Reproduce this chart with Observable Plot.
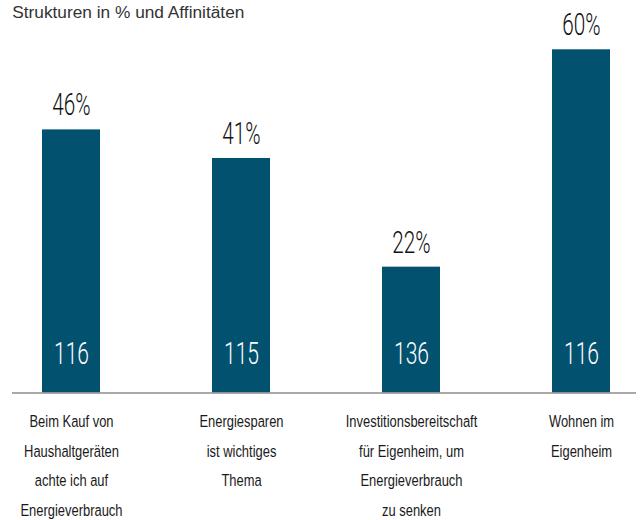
<!DOCTYPE html>
<html>
<head>
<meta charset="utf-8">
<script src="https://cdn.jsdelivr.net/npm/d3@7"></script>
<script src="https://cdn.jsdelivr.net/npm/@observablehq/plot@0.6"></script>
<style>
  html, body { margin: 0; padding: 0; background: #fff; }
  #chart svg { display: block; overflow: visible; }
</style>
</head>
<body>
<div id="chart"></div>
<script>
const title = "Strukturen in % und Affinitäten";
const categories = [
  "Beim Kauf von\nHaushaltgeräten\nachte ich auf\nEnergieverbrauch",
  "Energiesparen\nist wichtiges\nThema",
  "Investitionsbereitschaft\nfür Eigenheim, um\nEnergieverbrauch\nzu senken",
  "Wohnen im\nEigenheim"
];
const shares = [46, 41, 22, 60];
const indexValues = [116, 115, 136, 116];

const data = categories.map((c, i) => ({cat: c, share: shares[i], idx: indexValues[i]}));
const numFont = "Roboto, 'Liberation Sans', sans-serif";
const labFont = "'Liberation Sans', Arial, sans-serif";
const barColor = "#02516f";

const chart = Plot.plot({
  width: 641,
  height: 520,
  marginLeft: 42,
  marginRight: 30.5,
  marginTop: 49.3,
  marginBottom: 127.5,
  style: {background: "#fff"},
  x: {domain: categories, paddingInner: 0.656, paddingOuter: 0, axis: null},
  y: {domain: [0, 60], axis: null},
  marks: [
    Plot.barY(data, {x: "cat", y: "share", fill: barColor}),
    Plot.ruleY([0], {stroke: "#8c8c8c", strokeWidth: 1.6, insetLeft: -30, insetRight: -25.5}),
    Plot.text(data, {x: "cat", y: "share", text: d => d.share + "%", lineAnchor: "bottom", dy: -14.5,
      fontSize: 30.5, fontWeight: 300, fontFamily: numFont, fill: "#111111"}),
    Plot.text(data, {x: "cat", y: 0, text: d => String(d.idx), lineAnchor: "bottom", dy: -29.5,
      fontSize: 30.5, fontWeight: 300, fontFamily: numFont, fill: "#ffffff"}),
    Plot.text(data, {x: "cat", y: 0, text: "cat", lineAnchor: "top", dy: 13, lineHeight: 1.76,
      fontSize: 16.8, fontFamily: labFont, fill: "#1a1a1a"}),
    Plot.text([title], {frameAnchor: "top-left", text: d => d, textAnchor: "start", lineAnchor: "top",
      dx: -30.3, dy: -44.3, fontSize: 17.3, fontFamily: labFont, fill: "#333333"})
  ]
});

// horizontally condense the narrow-font texts around their anchor points
const groups = chart.querySelectorAll('g[aria-label="text"]');
const scales = [0.68, 0.69, 0.77];
scales.forEach((s, gi) => {
  const g = groups[gi];
  if (!g) return;
  g.querySelectorAll("text").forEach(t => {
    const tr = t.getAttribute("transform") || "";
    t.setAttribute("transform", (tr + ` scale(${s},1)`).trim());
  });
});
document.getElementById("chart").append(chart);
</script>
</body>
</html>
